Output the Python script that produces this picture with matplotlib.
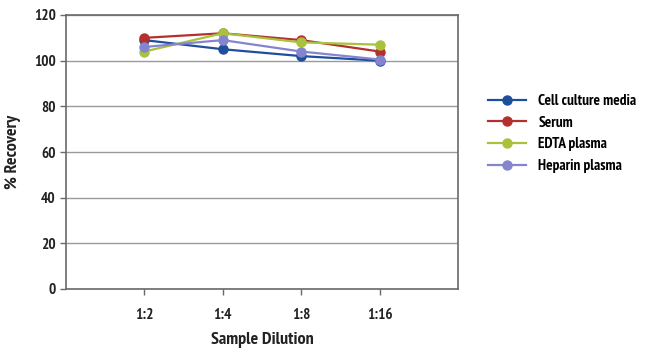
import matplotlib
matplotlib.use("Agg")
import matplotlib.pyplot as plt
from matplotlib import font_manager

categories = ["1:2", "1:4", "1:8", "1:16"]
cell_culture = [109, 105, 102, 100]
serum = [110, 112, 109, 104]
edta = [104, 112, 108, 107]
heparin = [106, 109, 104, 100.5]
series_names = ["Cell culture media", "Serum", "EDTA plasma", "Heparin plasma"]
colors = ["#1f4e9c", "#b3302e", "#a9c23c", "#8585cf"]

names = {f.name for f in font_manager.fontManager.ttflist}
fam = "DejaVu Sans"
for cand in ["PT Sans Narrow", "Fira Sans Condensed", "Roboto Condensed", "Open Sans Condensed",
             "Asap Condensed", "Archivo Narrow", "Saira SemiCondensed"]:
    if cand in names:
        fam = cand
        break
plt.rcParams['font.family'] = [fam, 'DejaVu Sans']

fig = plt.figure(figsize=(6.5, 3.58), dpi=100)
ax = fig.add_axes([66/650, 1-289/358, (458-66)/650, (289-15)/358])

x = list(range(1, len(categories)+1))
for vals, name, c in zip([cell_culture, serum, edta, heparin], series_names, colors):
    ax.plot(x, vals, color=c, lw=1.6, marker='o', ms=6.5, label=name)

ax.set_xlim(0, 5)
ax.set_ylim(0, 120)
ax.set_yticks(range(0, 121, 20))
ax.set_xticks(x)
ax.set_xticklabels(categories)
ax.yaxis.grid(True, color="#9a9a9a", lw=1)
ax.set_axisbelow(True)
for s in ax.spines.values():
    s.set_color("#6a6a6a")
    s.set_linewidth(1.2)
ax.tick_params(axis='both', colors="#6a6a6a", labelcolor="#222222", length=4, width=1)
for lab in ax.get_xticklabels() + ax.get_yticklabels():
    lab.set_fontweight('bold')
    lab.set_fontsize(11)
ax.tick_params(axis='x', pad=10)
ax.set_xlabel("Sample Dilution", fontsize=13, fontweight='bold', color="#222222", labelpad=7)
ax.set_ylabel("% Recovery", fontsize=13, fontweight='bold', color="#222222", labelpad=9)

leg = ax.legend(loc='upper left', bbox_to_anchor=((488-66)/392, (289-94)/274), frameon=False,
                prop={'weight': 'bold', 'size': 11}, handlelength=2.5, handletextpad=0.8,
                labelspacing=0.5, borderaxespad=0, borderpad=0)
fig.savefig("out.png", dpi=100)
